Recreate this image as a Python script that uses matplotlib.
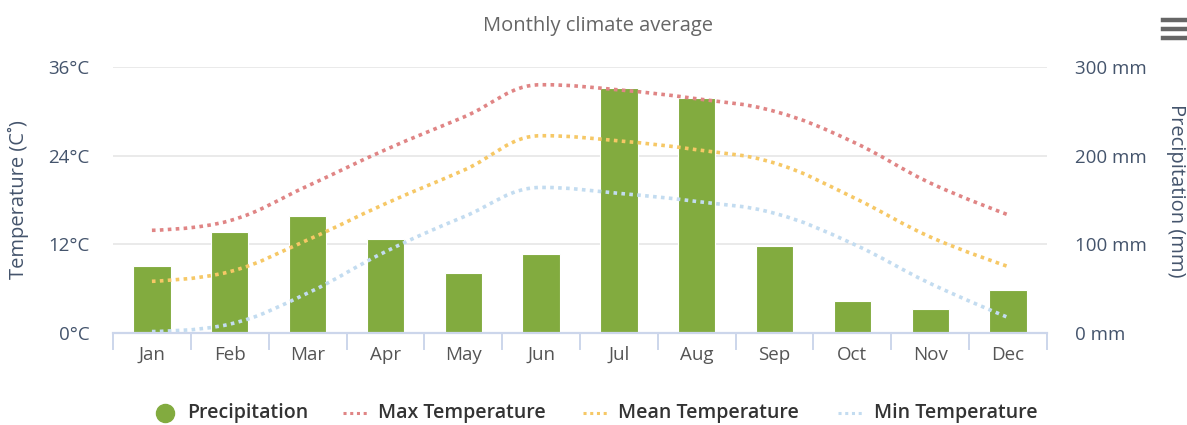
import numpy as np
import matplotlib
matplotlib.use("Agg")
import matplotlib.pyplot as plt
from matplotlib.path import Path
from matplotlib.patches import PathPatch
from matplotlib.lines import Line2D

months = ["Jan", "Feb", "Mar", "Apr", "May", "Jun",
          "Jul", "Aug", "Sep", "Oct", "Nov", "Dec"]
precipitation = [76, 114, 132, 106, 68, 89, 276, 265, 98, 36, 27, 49]
max_temp = [13.9, 15.2, 19.9, 24.8, 29.2, 33.6, 32.9, 31.7, 30.0, 25.9, 20.3, 16.0]
mean_temp = [7.0, 8.3, 12.6, 17.5, 22.0, 26.7, 26.0, 24.8, 23.0, 18.4, 13.0, 9.0]
min_temp = [0.2, 1.2, 5.4, 11.0, 15.7, 19.7, 18.9, 17.8, 16.2, 12.1, 6.7, 2.1]
temp_ticks = [0, 12, 24, 36]
rain_ticks = [0, 100, 200, 300]

FONT = "Open Sans"
LABEL_C = "#44546c"
BAR_C = "#82ab3f"
MAX_C = "#e08585"
MEAN_C = "#f6c866"
MIN_C = "#c3dcf0"

W, H = 1187, 425
fig = plt.figure(figsize=(W / 100, H / 100), dpi=100)
L, R, T, B = 113, 1047, 67, 333
ax = fig.add_axes([L / W, 1 - B / H, (R - L) / W, (B - T) / H])
ax2 = ax.twinx()

x = np.arange(len(months))


def spline_path(xs, ys, smoothing=1.5):
    """Cubic Bezier path through the points with Highcharts-style control points."""
    n = len(xs)
    denom = smoothing + 1
    rc = [None] * n
    lc = [None] * n
    for i in range(n):
        px, py = xs[i], ys[i]
        if 0 < i < n - 1:
            lx, ly = xs[i - 1], ys[i - 1]
            nx, ny = xs[i + 1], ys[i + 1]
            lcx = (smoothing * px + lx) / denom
            lcy = (smoothing * py + ly) / denom
            rcx = (smoothing * px + nx) / denom
            rcy = (smoothing * py + ny) / denom
            corr = 0.0
            if rcx != lcx:
                corr = (rcy - lcy) * (rcx - px) / (rcx - lcx) + py - rcy
            lcy += corr
            rcy += corr
            if lcy > ly and lcy > py:
                lcy = max(ly, py); rcy = 2 * py - lcy
            elif lcy < ly and lcy < py:
                lcy = min(ly, py); rcy = 2 * py - lcy
            if rcy > ny and rcy > py:
                rcy = max(ny, py); lcy = 2 * py - rcy
            elif rcy < ny and rcy < py:
                rcy = min(ny, py); lcy = 2 * py - rcy
            lc[i] = (lcx, lcy)
            rc[i] = (rcx, rcy)
    verts = [(xs[0], ys[0])]
    codes = [Path.MOVETO]
    for i in range(1, n):
        c1 = rc[i - 1] if rc[i - 1] is not None else (xs[i - 1], ys[i - 1])
        c2 = lc[i] if lc[i] is not None else (xs[i], ys[i])
        verts += [c1, c2, (xs[i], ys[i])]
        codes += [Path.CURVE4] * 3
    return Path(verts, codes)


# precipitation bars on the right-hand axis
ax2.bar(x, precipitation, width=0.48, color=BAR_C, edgecolor="white",
        linewidth=0.8, zorder=2)

# temperature splines on the left-hand axis
for series, col in [(max_temp, MAX_C), (mean_temp, MEAN_C), (min_temp, MIN_C)]:
    p = spline_path(list(x.astype(float)), series)
    ax.add_patch(PathPatch(p, facecolor="none", edgecolor=col, linewidth=2.6,
                           linestyle=(0, (1, 1.2)), zorder=3))

ax.set_zorder(ax2.get_zorder() + 1)
ax.patch.set_visible(False)

ax.set_xlim(-0.5, 11.5)
ax.set_ylim(0, 36)
ax2.set_ylim(0, 300)

# grid
for t in temp_ticks[1:]:
    ax2.axhline(t / 36 * 300, color="#e6e6e6", linewidth=1.2, zorder=0)

for a in (ax, ax2):
    for s in a.spines.values():
        s.set_visible(False)

ax.set_yticks(temp_ticks)
ax.set_yticklabels([f"{t}°C" for t in temp_ticks], fontsize=13.5,
                   color=LABEL_C, family=FONT)
ax.tick_params(axis="y", length=0, pad=17)
ax2.set_yticks(rain_ticks)
ax2.set_yticklabels([f"{t} mm" for t in rain_ticks], fontsize=13.5,
                    color=LABEL_C, family=FONT)
ax2.tick_params(axis="y", length=0, pad=20)

# x axis: baseline, boundary ticks, centred category labels
ax.set_xticks(x)
ax.set_xticklabels(months, fontsize=13.5, color="#555555", family=FONT)
ax.tick_params(axis="x", length=0, pad=9)
ax.axhline(0, color="#ccd6eb", linewidth=1.6, zorder=4, clip_on=False)
for b in np.arange(-0.5, 12, 1.0):
    ax.plot([b, b], [0, -16 / 266 * 36], color="#ccd6eb", linewidth=1.4,
            clip_on=False, zorder=4)

fig.text(18 / W, 1 - 200 / H, "Temperature (C˚)", rotation=90, ha="center",
         va="center", fontsize=14.5, color=LABEL_C, family=FONT)
fig.text(1176 / W, 1 - 191 / H, "Precipitation (mm)", rotation=270, ha="center",
         va="center", fontsize=14.5, color=LABEL_C, family=FONT)

fig.text(598 / W, 1 - 26 / H, "Monthly climate average", ha="center",
         va="center", fontsize=14.5, color="#666666", family=FONT)

# menu icon
for yy in (20, 29, 38):
    fig.add_artist(Line2D([1163 / W, 1187 / W], [1 - yy / H, 1 - yy / H],
                          color="#666666", linewidth=3.2,
                          transform=fig.transFigure))

# legend
ly = 1 - 413 / H
fig.add_artist(Line2D([165 / W], [ly], marker="o", markersize=13,
                      color=BAR_C, linestyle="none", transform=fig.transFigure))
legend_items = [
    (None, 187, "Precipitation"),
    ((343, 368, MAX_C), 378, "Max Temperature"),
    ((583, 608, MEAN_C), 618, "Mean Temperature"),
    ((838, 862, MIN_C), 874, "Min Temperature"),
]
for line, tx, label in legend_items:
    if line is not None:
        x0, x1, col = line
        fig.add_artist(Line2D([x0 / W, x1 / W], [ly, ly], color=col,
                              linewidth=2.2, linestyle=(0, (1, 1.2)),
                              transform=fig.transFigure))
    fig.text(tx / W, ly, label, ha="left", va="center", fontsize=14,
             fontweight="semibold", color="#333333", family=FONT)

fig.savefig("out.png", dpi=100)
